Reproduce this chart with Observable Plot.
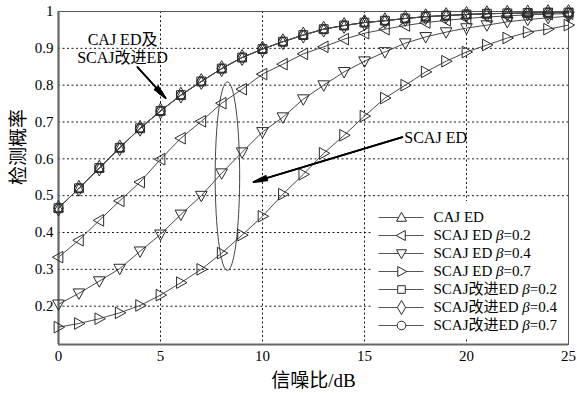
<!DOCTYPE html>
<html>
<head>
<meta charset="utf-8">
<script src="https://cdn.jsdelivr.net/npm/d3@7"></script>
<script src="https://cdn.jsdelivr.net/npm/@observablehq/plot@0.6"></script>
<style>
  html, body { margin: 0; padding: 0; background: #fff; }
  #wrap { position: relative; width: 577px; height: 393px; }
  #legend { position: absolute; left: 371px; top: 201px; }
</style>
</head>
<body>
<div id="wrap"><div id="chart"></div><div id="legend"></div></div>
<script>
// ---------- data ----------
const snr = [0,1,2,3,4,5,6,7,8,9,10,11,12,13,14,15,16,17,18,19,20,21,22,23,24,25];
const cajED    = [0.466,0.520,0.575,0.630,0.683,0.730,0.773,0.810,0.845,0.875,0.898,0.918,0.936,0.952,0.962,0.970,0.975,0.981,0.986,0.989,0.992,0.994,0.995,0.996,0.997,0.997];
const scajB02  = [0.333,0.379,0.433,0.486,0.537,0.599,0.656,0.702,0.751,0.789,0.830,0.857,0.885,0.904,0.925,0.941,0.952,0.962,0.970,0.976,0.981,0.985,0.988,0.991,0.993,0.994];
const scajB04  = [0.205,0.235,0.268,0.302,0.349,0.395,0.449,0.500,0.561,0.618,0.673,0.713,0.762,0.800,0.836,0.865,0.890,0.914,0.931,0.944,0.955,0.963,0.972,0.978,0.983,0.987];
const scajB07  = [0.143,0.153,0.166,0.182,0.202,0.230,0.264,0.300,0.344,0.393,0.444,0.504,0.558,0.615,0.664,0.716,0.765,0.800,0.836,0.865,0.890,0.909,0.928,0.944,0.952,0.963];
const impB02   = [0.466,0.520,0.575,0.630,0.683,0.730,0.773,0.810,0.845,0.875,0.898,0.918,0.936,0.952,0.962,0.970,0.975,0.981,0.986,0.989,0.992,0.994,0.995,0.996,0.997,0.997];
const impB04   = [0.466,0.520,0.575,0.630,0.683,0.730,0.773,0.810,0.845,0.875,0.898,0.918,0.936,0.952,0.962,0.970,0.975,0.981,0.986,0.989,0.992,0.994,0.995,0.996,0.997,0.997];
const impB07   = [0.466,0.520,0.575,0.630,0.683,0.730,0.773,0.810,0.845,0.875,0.898,0.918,0.936,0.952,0.962,0.970,0.975,0.981,0.986,0.989,0.992,0.994,0.995,0.996,0.997,0.997];

const seriesLabels = ["CAJ ED","SCAJ ED β=0.2","SCAJ ED β=0.4","SCAJ ED β=0.7","SCAJ改进ED β=0.2","SCAJ改进ED β=0.4","SCAJ改进ED β=0.7"];
const xTicks = [0,5,10,15,20,25];
const yTicks = [0.2,0.3,0.4,0.5,0.6,0.7,0.8,0.9,1];
const xLabel = "信噪比/dB";
const yLabel = "检测概率";
const noteTop = ["CAJ ED及","SCAJ改进ED"];
const noteMid = "SCAJ ED";

// ---------- symbols ----------
function rad(size){ return Math.sqrt(size / Math.PI); }
const triUp = {draw(c, s){ const r = rad(s); c.moveTo(0,-r*1.05); c.lineTo(r*1.0, r*0.75); c.lineTo(-r*1.0, r*0.75); c.closePath(); }};
const triDown = {draw(c, s){ const r = rad(s); c.moveTo(0, r*1.05); c.lineTo(r*1.0, -r*0.75); c.lineTo(-r*1.0, -r*0.75); c.closePath(); }};
const triLeft = {draw(c, s){ const r = rad(s); c.moveTo(-r*1.05, 0); c.lineTo(r*0.75, -r*1.0); c.lineTo(r*0.75, r*1.0); c.closePath(); }};
const triRight = {draw(c, s){ const r = rad(s); c.moveTo(r*1.05, 0); c.lineTo(-r*0.75, -r*1.0); c.lineTo(-r*0.75, r*1.0); c.closePath(); }};

const series = [
  {name: seriesLabels[1], values: scajB02, symbol: triLeft, r: 5.8},
  {name: seriesLabels[2], values: scajB04, symbol: triDown, r: 5.8},
  {name: seriesLabels[3], values: scajB07, symbol: triRight, r: 5.8},
  {name: seriesLabels[0], values: cajED, symbol: triUp, r: 4.8},
  {name: seriesLabels[4], values: impB02, symbol: "square", r: 5},
  {name: seriesLabels[5], values: impB04, symbol: "diamond", r: 4.8},
  {name: seriesLabels[6], values: impB07, symbol: "circle", r: 4.4}
];
const rows = series.flatMap(s => snr.map((x, i) => ({series: s.name, x, y: s.values[i]})));

// annotation geometry (data coordinates)
const ellipse = {cx: 8.28, cy: 0.553, rx: 0.6, ry: 0.256};
const ellipsePts = d3.range(0, 361, 4).map(a => ({x: ellipse.cx + ellipse.rx*Math.cos(a*Math.PI/180), y: ellipse.cy + ellipse.ry*Math.sin(a*Math.PI/180)}));
const arrowTop = {x1: 3.87, y1: 0.849, x2: 5.25, y2: 0.765};
const arrowMid = {x1: 16.86, y1: 0.659, x2: 9.56, y2: 0.537};

const font = "'Liberation Serif','Times New Roman','Noto Sans CJK SC',serif";
const lineColor = "#4a4a4a";
const markColor = "#2a2a2a";

function arrowMarks(a){
  return [10, 20, 28].map(h => Plot.arrow([a], {x1:"x1", y1:"y1", x2:"x2", y2:"y2", stroke:"#000", strokeWidth: h === 28 ? 1 : 1.6, headLength: 13, headAngle: h}));
}

const marks = [
  Plot.gridX(xTicks.filter(d => d > 0 && d < 25), {stroke:"#000", strokeOpacity: 0.9, strokeDasharray:"2,2.5", strokeWidth: 1}),
  Plot.gridY(yTicks.filter(d => d < 1), {stroke:"#000", strokeOpacity: 0.9, strokeDasharray:"2,2.5", strokeWidth: 1}),
  Plot.frame({stroke:"#555", strokeWidth: 1}),
  Plot.ruleY([0.096], {stroke:"#666", strokeWidth: 2.2}),
  Plot.ruleX([0], {stroke:"#666", strokeWidth: 2.2}),
  Plot.line(ellipsePts, {x:"x", y:"y", stroke:"#444", strokeWidth: 1, curve:"linear"}),
];
for (const s of series) {
  marks.push(Plot.line(rows.filter(d => d.series === s.name), {x:"x", y:"y", stroke: lineColor, strokeWidth: 1}));
}
for (const s of series) {
  marks.push(Plot.dot(rows.filter(d => d.series === s.name), {x:"x", y:"y", symbol: s.symbol, r: s.r, stroke: markColor, strokeWidth: 1, fill:"none"}));
}
marks.push(
  Plot.axisX(xTicks, {tickSize: 0, tickPadding: 6, fontSize: 15, label: null}),
  Plot.axisY(yTicks, {tickSize: 0, tickPadding: 5, fontSize: 15, label: null, tickFormat: d => d === 1 ? "1" : d.toFixed(1)}),
  Plot.text([xLabel], {frameAnchor:"bottom", dy: 36, fontSize: 19, lineAnchor:"middle"}),
  Plot.text([yLabel], {frameAnchor:"left", dx: -40, dy: 7, rotate: -90, fontSize: 19, lineAnchor:"middle"}),
  Plot.text([noteTop[0]], {x: 3.14, y: 0.923, fontSize: 16, textAnchor:"middle", lineAnchor:"middle"}),
  Plot.text([noteTop[1]], {x: 3.14, y: 0.874, fontSize: 16, textAnchor:"middle", lineAnchor:"middle"}),
  Plot.text([noteMid], {x: 16.95, y: 0.658, fontSize: 16, textAnchor:"start", lineAnchor:"middle"}),
  ...arrowMarks(arrowTop),
  ...arrowMarks(arrowMid)
);

const chart = Plot.plot({
  width: 577, height: 393,
  marginLeft: 58, marginRight: 9, marginTop: 11, marginBottom: 49,
  style: {fontFamily: font, fontSize: "15px", color: "#000", background: "#fff"},
  x: {domain: [0, 25]},
  y: {domain: [0.096, 1]},
  marks
});
document.getElementById("chart").appendChild(chart);

// ---------- legend (inside plot area) ----------
const legendSymbols = [triUp, triLeft, triDown, triRight, "square", "diamond", "circle"];
const legendRows = seriesLabels.map((label, i) => ({label, i}));
const legend = Plot.plot({
  width: 197, height: 137,
  margin: 0,
  style: {fontFamily: font, fontSize: "15px", color: "#000", background: "#fff"},
  x: {type: "linear", domain: [0, 197], range: [0, 197], axis: null},
  y: {type: "point", domain: seriesLabels, range: [15, 125.5], padding: 0, axis: null},
  marks: [
    Plot.link(legendRows, {x1: 7, x2: 52, y1: "label", y2: "label", stroke: "#555", strokeWidth: 1.2}),
    ...legendRows.map(d => Plot.dot([d], {x: 30, y: "label", symbol: legendSymbols[d.i], r: d.i >= 4 ? 4.3 : 5, stroke: markColor, fill: "#fff", strokeWidth: 1})),
    Plot.text(legendRows, {x: 62, y: "label", text: "label", textAnchor: "start", lineAnchor: "middle", fontSize: 15})
  ]
});
document.getElementById("legend").appendChild(legend);

// italic β in legend text
d3.select(legend).selectAll("text").each(function(){
  const t = this.textContent;
  const k = t.indexOf("β");
  if (k < 0) return;
  const el = d3.select(this);
  el.text(null);
  el.append("tspan").text(t.slice(0, k));
  el.append("tspan").attr("font-style", "italic").text("β");
  el.append("tspan").text(t.slice(k + 1));
});
</script>
</body>
</html>
